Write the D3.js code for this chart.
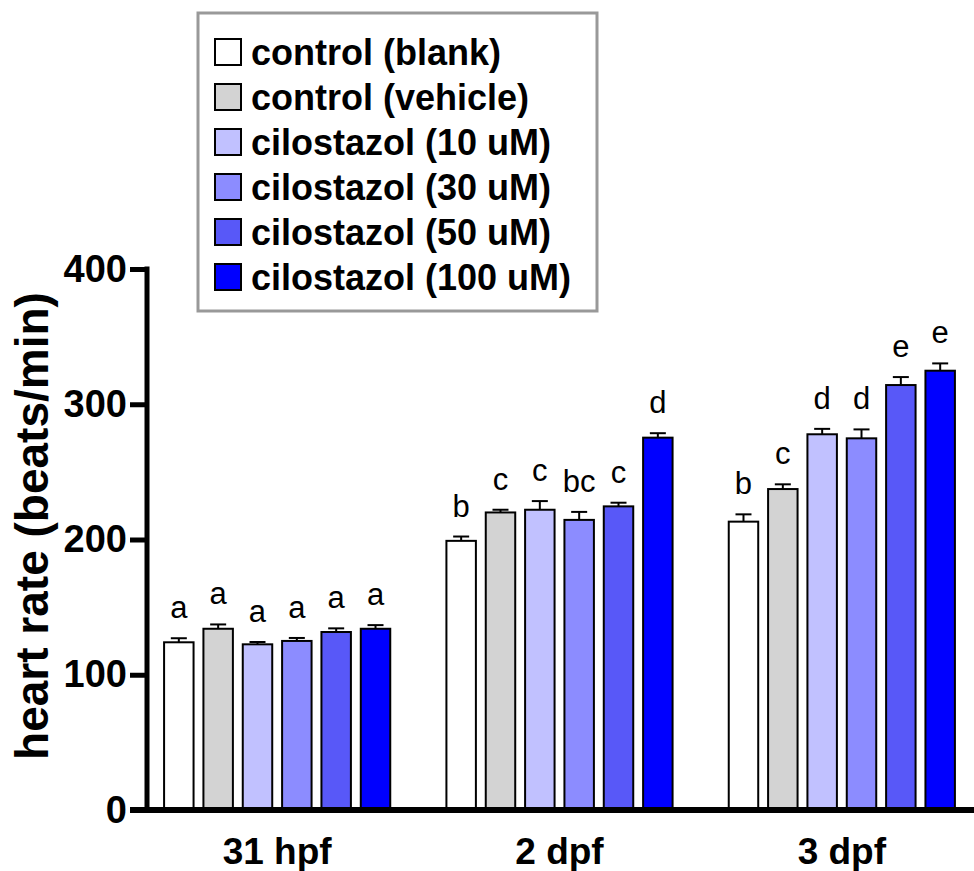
<!DOCTYPE html>
<html>
<head>
<meta charset="utf-8">
<script src="https://cdn.jsdelivr.net/npm/d3@7"></script>
<style>
  body { margin: 0; background: #fff; }
  text { font-family: "Liberation Sans", Arial, sans-serif; }
</style>
</head>
<body>
<svg id="chart" width="974" height="871"></svg>
<script>
// groups on the x axis and the six treatments
const groups = ["31 hpf", "2 dpf", "3 dpf"];
const series = ["control (blank)", "control (vehicle)", "cilostazol (10 uM)",
                "cilostazol (30 uM)", "cilostazol (50 uM)", "cilostazol (100 uM)"];
const colors = ["#ffffff", "#d3d3d3", "#c1c1ff", "#8c8cff", "#5858f8", "#0000ff"];

// mean heart rate (beats/min), one array per time point
const hpf31 = [124, 134, 122.5, 125, 131.6, 134];
const dpf2 = [199, 220, 222, 214.5, 224.5, 275.3];
const dpf3 = [213.2, 237.3, 277.8, 274.8, 314.2, 324.8];

// SEM
const hpf31Err = [3, 3.2, 1.7, 2.2, 2.7, 2.7];
const dpf2Err = [3.2, 2, 6.4, 5.9, 2.7, 3.3];
const dpf3Err = [5.4, 3.5, 4, 6.6, 5.9, 5.4];

// significance letters
const hpf31Sig = ["a", "a", "a", "a", "a", "a"];
const dpf2Sig = ["b", "c", "c", "bc", "c", "d"];
const dpf3Sig = ["b", "c", "d", "d", "e", "e"];

const yTicks = [0, 100, 200, 300, 400];

const means = [hpf31, dpf2, dpf3];
const errs = [hpf31Err, dpf2Err, dpf3Err];
const sigs = [hpf31Sig, dpf2Sig, dpf3Sig];

const rows = [];
groups.forEach((g, gi) => {
    series.forEach((s, si) => {
        rows.push({ group: g, series: s, mean: means[gi][si], err: errs[gi][si], sig: sigs[gi][si] });
    });
});

const svg = d3.select("#chart");
const W = 974;

const x0 = d3.scaleBand().domain(groups).range([136, 983]).paddingInner(0.164).paddingOuter(0.082);
const x1 = d3.scaleBand().domain(series).range([0, x0.bandwidth()]).paddingInner(0.2).paddingOuter(0.1);
const y = d3.scaleLinear().domain([0, 400]).range([810, 269]);
const color = d3.scaleOrdinal().domain(series).range(colors);

// bars
const bar = svg.append("g").selectAll("g").data(rows).enter().append("g")
    .attr("transform", d => "translate(" + (x0(d.group) + x1(d.series)) + ",0)");

bar.append("rect")
    .attr("x", 1)
    .attr("width", x1.bandwidth() - 2)
    .attr("y", d => y(d.mean))
    .attr("height", d => y(0) - y(d.mean))
    .attr("fill", d => color(d.series))
    .attr("stroke", "#000")
    .attr("stroke-width", 2);

// error bars (upper only)
const bw = x1.bandwidth();
bar.append("line")
    .attr("x1", bw / 2).attr("x2", bw / 2)
    .attr("y1", d => y(d.mean)).attr("y2", d => y(d.mean + d.err))
    .attr("stroke", "#000").attr("stroke-width", 2);
bar.append("line")
    .attr("x1", bw / 2 - 8).attr("x2", bw / 2 + 8)
    .attr("y1", d => y(d.mean + d.err)).attr("y2", d => y(d.mean + d.err))
    .attr("stroke", "#000").attr("stroke-width", 2);

bar.append("text")
    .attr("x", bw / 2)
    .attr("y", d => y(d.mean + d.err) - 20)
    .attr("text-anchor", "middle")
    .attr("font-size", 31)
    .text(d => d.sig);

// y axis
const yAxis = svg.append("g")
    .attr("transform", "translate(147,0)")
    .call(d3.axisLeft(y).tickValues(yTicks).tickSize(17).tickSizeOuter(0).tickPadding(3));
yAxis.select(".domain").attr("stroke-width", 5).attr("d", "M0," + (y(400) - 2.5) + "V" + y(0));
yAxis.selectAll(".tick line").attr("stroke-width", 5);
yAxis.selectAll(".tick text")
    .attr("font-size", 38).attr("font-weight", "bold").attr("fill", "#000")
    .attr("font-family", "'Liberation Sans', Arial, sans-serif");

// x axis baseline
svg.append("line")
    .attr("x1", 130).attr("x2", W)
    .attr("y1", y(0)).attr("y2", y(0))
    .attr("stroke", "#000").attr("stroke-width", 6);

const xAxis = svg.append("g")
    .attr("transform", "translate(0," + y(0) + ")")
    .call(d3.axisBottom(x0).tickSize(0).tickPadding(28));
xAxis.select(".domain").remove();
xAxis.selectAll(".tick text")
    .attr("font-size", 37).attr("font-weight", "bold").attr("fill", "#000")
    .attr("font-family", "'Liberation Sans', Arial, sans-serif");

// y title
svg.append("text")
    .attr("transform", "translate(48," + 526 + ") rotate(-90)")
    .attr("text-anchor", "middle")
    .attr("font-size", 46)
    .attr("font-weight", "bold")
    .text("heart rate (beats/min)");

// legend
const legend = svg.append("g");
legend.append("rect")
    .attr("x", 198).attr("y", 13).attr("width", 399).attr("height", 298)
    .attr("fill", "#fff").attr("stroke", "#999").attr("stroke-width", 3);

const item = legend.selectAll("g").data(series).enter().append("g")
    .attr("transform", (d, i) => "translate(0," + (52 + i * 45) + ")");
item.append("rect")
    .attr("x", 215).attr("y", -13).attr("width", 26).attr("height", 26)
    .attr("fill", d => color(d)).attr("stroke", "#000").attr("stroke-width", 2);
item.append("text")
    .attr("x", 251).attr("y", 0).attr("dy", "0.35em")
    .attr("font-size", 36).attr("font-weight", "bold")
    .text(d => d);
</script>
</body>
</html>
